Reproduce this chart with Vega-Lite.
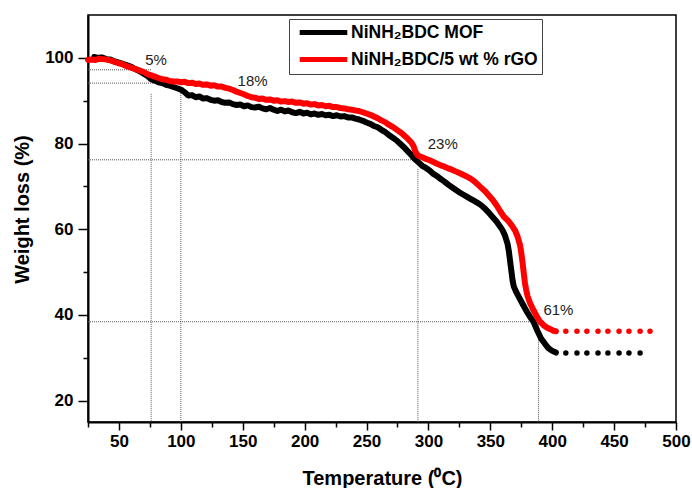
{
  "$schema": "https://vega.github.io/schema/vega-lite/v6.json",
  "width": 588,
  "height": 407,
  "autosize": {"type": "none"},
  "padding": {"left": 88, "top": 15, "right": 16, "bottom": 66},
  "background": "white",
  "config": {
    "view": {"stroke": "black", "strokeWidth": 1.5},
    "font": "Liberation Sans"
  },
  "resolve": {"axis": {"x": "independent", "y": "independent"}},
  "datasets": {
    "curves": [
      {"sample": "NiNH₂BDC MOF", "T": 30, "W": 100.2}, {"sample": "NiNH₂BDC MOF", "T": 33, "W": 100.0}, {"sample": "NiNH₂BDC MOF", "T": 36, "W": 100.1},
      {"sample": "NiNH₂BDC MOF", "T": 40, "W": 99.7}, {"sample": "NiNH₂BDC MOF", "T": 43, "W": 99.6}, {"sample": "NiNH₂BDC MOF", "T": 46, "W": 99.2},
      {"sample": "NiNH₂BDC MOF", "T": 50, "W": 98.9}, {"sample": "NiNH₂BDC MOF", "T": 53, "W": 98.6}, {"sample": "NiNH₂BDC MOF", "T": 56, "W": 98.3},
      {"sample": "NiNH₂BDC MOF", "T": 60, "W": 97.9}, {"sample": "NiNH₂BDC MOF", "T": 63, "W": 97.4}, {"sample": "NiNH₂BDC MOF", "T": 66, "W": 97.0},
      {"sample": "NiNH₂BDC MOF", "T": 70, "W": 96.3}, {"sample": "NiNH₂BDC MOF", "T": 73, "W": 95.8}, {"sample": "NiNH₂BDC MOF", "T": 76, "W": 95.0},
      {"sample": "NiNH₂BDC MOF", "T": 79, "W": 94.7}, {"sample": "NiNH₂BDC MOF", "T": 82, "W": 94.3}, {"sample": "NiNH₂BDC MOF", "T": 85, "W": 94.1},
      {"sample": "NiNH₂BDC MOF", "T": 88, "W": 93.7}, {"sample": "NiNH₂BDC MOF", "T": 91, "W": 93.5}, {"sample": "NiNH₂BDC MOF", "T": 94, "W": 93.2},
      {"sample": "NiNH₂BDC MOF", "T": 97, "W": 92.9}, {"sample": "NiNH₂BDC MOF", "T": 100, "W": 92.6}, {"sample": "NiNH₂BDC MOF", "T": 103, "W": 92.0},
      {"sample": "NiNH₂BDC MOF", "T": 106, "W": 91.2}, {"sample": "NiNH₂BDC MOF", "T": 109, "W": 91.3}, {"sample": "NiNH₂BDC MOF", "T": 112, "W": 90.8},
      {"sample": "NiNH₂BDC MOF", "T": 115, "W": 91.0}, {"sample": "NiNH₂BDC MOF", "T": 118, "W": 90.5}, {"sample": "NiNH₂BDC MOF", "T": 121, "W": 90.6},
      {"sample": "NiNH₂BDC MOF", "T": 124, "W": 90.2}, {"sample": "NiNH₂BDC MOF", "T": 127, "W": 90.0}, {"sample": "NiNH₂BDC MOF", "T": 130, "W": 90.1},
      {"sample": "NiNH₂BDC MOF", "T": 133, "W": 89.7}, {"sample": "NiNH₂BDC MOF", "T": 136, "W": 89.5}, {"sample": "NiNH₂BDC MOF", "T": 139, "W": 89.6},
      {"sample": "NiNH₂BDC MOF", "T": 142, "W": 89.2}, {"sample": "NiNH₂BDC MOF", "T": 145, "W": 89.0}, {"sample": "NiNH₂BDC MOF", "T": 148, "W": 89.1},
      {"sample": "NiNH₂BDC MOF", "T": 151, "W": 88.7}, {"sample": "NiNH₂BDC MOF", "T": 154, "W": 88.9}, {"sample": "NiNH₂BDC MOF", "T": 157, "W": 88.5},
      {"sample": "NiNH₂BDC MOF", "T": 160, "W": 88.4}, {"sample": "NiNH₂BDC MOF", "T": 163, "W": 88.6}, {"sample": "NiNH₂BDC MOF", "T": 166, "W": 88.2},
      {"sample": "NiNH₂BDC MOF", "T": 169, "W": 88.0}, {"sample": "NiNH₂BDC MOF", "T": 172, "W": 88.3}, {"sample": "NiNH₂BDC MOF", "T": 175, "W": 87.9},
      {"sample": "NiNH₂BDC MOF", "T": 178, "W": 87.6}, {"sample": "NiNH₂BDC MOF", "T": 181, "W": 87.9}, {"sample": "NiNH₂BDC MOF", "T": 184, "W": 87.5},
      {"sample": "NiNH₂BDC MOF", "T": 187, "W": 87.7}, {"sample": "NiNH₂BDC MOF", "T": 190, "W": 87.3}, {"sample": "NiNH₂BDC MOF", "T": 193, "W": 87.1},
      {"sample": "NiNH₂BDC MOF", "T": 196, "W": 87.4}, {"sample": "NiNH₂BDC MOF", "T": 199, "W": 87.0}, {"sample": "NiNH₂BDC MOF", "T": 202, "W": 87.2},
      {"sample": "NiNH₂BDC MOF", "T": 205, "W": 86.8}, {"sample": "NiNH₂BDC MOF", "T": 208, "W": 87.0}, {"sample": "NiNH₂BDC MOF", "T": 211, "W": 86.7},
      {"sample": "NiNH₂BDC MOF", "T": 214, "W": 86.9}, {"sample": "NiNH₂BDC MOF", "T": 217, "W": 86.6}, {"sample": "NiNH₂BDC MOF", "T": 220, "W": 86.7},
      {"sample": "NiNH₂BDC MOF", "T": 223, "W": 86.4}, {"sample": "NiNH₂BDC MOF", "T": 226, "W": 86.6}, {"sample": "NiNH₂BDC MOF", "T": 229, "W": 86.3},
      {"sample": "NiNH₂BDC MOF", "T": 232, "W": 86.4}, {"sample": "NiNH₂BDC MOF", "T": 235, "W": 86.1}, {"sample": "NiNH₂BDC MOF", "T": 238, "W": 86.1},
      {"sample": "NiNH₂BDC MOF", "T": 241, "W": 85.8}, {"sample": "NiNH₂BDC MOF", "T": 244, "W": 85.6}, {"sample": "NiNH₂BDC MOF", "T": 247, "W": 85.3},
      {"sample": "NiNH₂BDC MOF", "T": 250, "W": 84.9}, {"sample": "NiNH₂BDC MOF", "T": 253, "W": 84.6}, {"sample": "NiNH₂BDC MOF", "T": 256, "W": 84.1},
      {"sample": "NiNH₂BDC MOF", "T": 259, "W": 83.8}, {"sample": "NiNH₂BDC MOF", "T": 262, "W": 83.2}, {"sample": "NiNH₂BDC MOF", "T": 265, "W": 82.7},
      {"sample": "NiNH₂BDC MOF", "T": 268, "W": 82.0}, {"sample": "NiNH₂BDC MOF", "T": 271, "W": 81.4}, {"sample": "NiNH₂BDC MOF", "T": 274, "W": 80.8},
      {"sample": "NiNH₂BDC MOF", "T": 277, "W": 80.0}, {"sample": "NiNH₂BDC MOF", "T": 280, "W": 79.2}, {"sample": "NiNH₂BDC MOF", "T": 283, "W": 78.3},
      {"sample": "NiNH₂BDC MOF", "T": 286, "W": 77.4}, {"sample": "NiNH₂BDC MOF", "T": 289, "W": 76.4}, {"sample": "NiNH₂BDC MOF", "T": 292, "W": 75.6},
      {"sample": "NiNH₂BDC MOF", "T": 295, "W": 74.8}, {"sample": "NiNH₂BDC MOF", "T": 298, "W": 74.3}, {"sample": "NiNH₂BDC MOF", "T": 301, "W": 73.7},
      {"sample": "NiNH₂BDC MOF", "T": 304, "W": 72.9}, {"sample": "NiNH₂BDC MOF", "T": 307, "W": 72.4}, {"sample": "NiNH₂BDC MOF", "T": 310, "W": 71.7},
      {"sample": "NiNH₂BDC MOF", "T": 313, "W": 71.1}, {"sample": "NiNH₂BDC MOF", "T": 316, "W": 70.4}, {"sample": "NiNH₂BDC MOF", "T": 319, "W": 69.8},
      {"sample": "NiNH₂BDC MOF", "T": 322, "W": 69.2}, {"sample": "NiNH₂BDC MOF", "T": 325, "W": 68.6}, {"sample": "NiNH₂BDC MOF", "T": 328, "W": 68.1},
      {"sample": "NiNH₂BDC MOF", "T": 331, "W": 67.6}, {"sample": "NiNH₂BDC MOF", "T": 334, "W": 67.1}, {"sample": "NiNH₂BDC MOF", "T": 337, "W": 66.6},
      {"sample": "NiNH₂BDC MOF", "T": 340, "W": 66.1}, {"sample": "NiNH₂BDC MOF", "T": 343, "W": 65.5}, {"sample": "NiNH₂BDC MOF", "T": 346, "W": 64.7},
      {"sample": "NiNH₂BDC MOF", "T": 349, "W": 63.8}, {"sample": "NiNH₂BDC MOF", "T": 352, "W": 62.8}, {"sample": "NiNH₂BDC MOF", "T": 355, "W": 61.8},
      {"sample": "NiNH₂BDC MOF", "T": 358, "W": 60.6}, {"sample": "NiNH₂BDC MOF", "T": 360, "W": 59.7}, {"sample": "NiNH₂BDC MOF", "T": 362, "W": 58.4},
      {"sample": "NiNH₂BDC MOF", "T": 364, "W": 56.5}, {"sample": "NiNH₂BDC MOF", "T": 365, "W": 54.8}, {"sample": "NiNH₂BDC MOF", "T": 366, "W": 52.5},
      {"sample": "NiNH₂BDC MOF", "T": 367, "W": 50.3}, {"sample": "NiNH₂BDC MOF", "T": 368, "W": 48.0}, {"sample": "NiNH₂BDC MOF", "T": 369, "W": 46.6},
      {"sample": "NiNH₂BDC MOF", "T": 371, "W": 45.3}, {"sample": "NiNH₂BDC MOF", "T": 373, "W": 44.2}, {"sample": "NiNH₂BDC MOF", "T": 376, "W": 42.6},
      {"sample": "NiNH₂BDC MOF", "T": 379, "W": 41.0}, {"sample": "NiNH₂BDC MOF", "T": 382, "W": 39.6}, {"sample": "NiNH₂BDC MOF", "T": 385, "W": 38.3},
      {"sample": "NiNH₂BDC MOF", "T": 388, "W": 36.3}, {"sample": "NiNH₂BDC MOF", "T": 391, "W": 34.5}, {"sample": "NiNH₂BDC MOF", "T": 394, "W": 33.3},
      {"sample": "NiNH₂BDC MOF", "T": 397, "W": 32.2}, {"sample": "NiNH₂BDC MOF", "T": 400, "W": 31.6}, {"sample": "NiNH₂BDC MOF", "T": 403, "W": 31.2},

      {"sample": "NiNH₂BDC/5 wt % rGO", "T": 25, "W": 99.5}, {"sample": "NiNH₂BDC/5 wt % rGO", "T": 28, "W": 99.6}, {"sample": "NiNH₂BDC/5 wt % rGO", "T": 31, "W": 99.5},
      {"sample": "NiNH₂BDC/5 wt % rGO", "T": 34, "W": 99.8}, {"sample": "NiNH₂BDC/5 wt % rGO", "T": 37, "W": 99.7}, {"sample": "NiNH₂BDC/5 wt % rGO", "T": 40, "W": 99.6},
      {"sample": "NiNH₂BDC/5 wt % rGO", "T": 43, "W": 99.4}, {"sample": "NiNH₂BDC/5 wt % rGO", "T": 46, "W": 99.1}, {"sample": "NiNH₂BDC/5 wt % rGO", "T": 49, "W": 98.8},
      {"sample": "NiNH₂BDC/5 wt % rGO", "T": 52, "W": 98.6}, {"sample": "NiNH₂BDC/5 wt % rGO", "T": 55, "W": 98.2}, {"sample": "NiNH₂BDC/5 wt % rGO", "T": 58, "W": 97.9},
      {"sample": "NiNH₂BDC/5 wt % rGO", "T": 61, "W": 97.6}, {"sample": "NiNH₂BDC/5 wt % rGO", "T": 64, "W": 97.3}, {"sample": "NiNH₂BDC/5 wt % rGO", "T": 67, "W": 97.0},
      {"sample": "NiNH₂BDC/5 wt % rGO", "T": 70, "W": 96.7}, {"sample": "NiNH₂BDC/5 wt % rGO", "T": 73, "W": 96.2}, {"sample": "NiNH₂BDC/5 wt % rGO", "T": 76, "W": 95.9},
      {"sample": "NiNH₂BDC/5 wt % rGO", "T": 79, "W": 95.6}, {"sample": "NiNH₂BDC/5 wt % rGO", "T": 82, "W": 95.3}, {"sample": "NiNH₂BDC/5 wt % rGO", "T": 85, "W": 95.0},
      {"sample": "NiNH₂BDC/5 wt % rGO", "T": 88, "W": 94.9}, {"sample": "NiNH₂BDC/5 wt % rGO", "T": 91, "W": 94.6}, {"sample": "NiNH₂BDC/5 wt % rGO", "T": 94, "W": 94.5},
      {"sample": "NiNH₂BDC/5 wt % rGO", "T": 97, "W": 94.5}, {"sample": "NiNH₂BDC/5 wt % rGO", "T": 100, "W": 94.3}, {"sample": "NiNH₂BDC/5 wt % rGO", "T": 103, "W": 94.4},
      {"sample": "NiNH₂BDC/5 wt % rGO", "T": 106, "W": 94.1}, {"sample": "NiNH₂BDC/5 wt % rGO", "T": 109, "W": 94.2}, {"sample": "NiNH₂BDC/5 wt % rGO", "T": 112, "W": 93.9},
      {"sample": "NiNH₂BDC/5 wt % rGO", "T": 115, "W": 94.0}, {"sample": "NiNH₂BDC/5 wt % rGO", "T": 118, "W": 93.7}, {"sample": "NiNH₂BDC/5 wt % rGO", "T": 121, "W": 93.8},
      {"sample": "NiNH₂BDC/5 wt % rGO", "T": 124, "W": 93.5}, {"sample": "NiNH₂BDC/5 wt % rGO", "T": 127, "W": 93.6}, {"sample": "NiNH₂BDC/5 wt % rGO", "T": 130, "W": 93.3},
      {"sample": "NiNH₂BDC/5 wt % rGO", "T": 133, "W": 93.3}, {"sample": "NiNH₂BDC/5 wt % rGO", "T": 136, "W": 93.0}, {"sample": "NiNH₂BDC/5 wt % rGO", "T": 139, "W": 92.8},
      {"sample": "NiNH₂BDC/5 wt % rGO", "T": 142, "W": 92.5}, {"sample": "NiNH₂BDC/5 wt % rGO", "T": 145, "W": 92.1}, {"sample": "NiNH₂BDC/5 wt % rGO", "T": 148, "W": 91.8},
      {"sample": "NiNH₂BDC/5 wt % rGO", "T": 151, "W": 91.5}, {"sample": "NiNH₂BDC/5 wt % rGO", "T": 154, "W": 91.1}, {"sample": "NiNH₂BDC/5 wt % rGO", "T": 157, "W": 90.8},
      {"sample": "NiNH₂BDC/5 wt % rGO", "T": 160, "W": 90.7}, {"sample": "NiNH₂BDC/5 wt % rGO", "T": 163, "W": 90.4}, {"sample": "NiNH₂BDC/5 wt % rGO", "T": 166, "W": 90.5},
      {"sample": "NiNH₂BDC/5 wt % rGO", "T": 169, "W": 90.2}, {"sample": "NiNH₂BDC/5 wt % rGO", "T": 172, "W": 90.3}, {"sample": "NiNH₂BDC/5 wt % rGO", "T": 175, "W": 90.0},
      {"sample": "NiNH₂BDC/5 wt % rGO", "T": 178, "W": 90.1}, {"sample": "NiNH₂BDC/5 wt % rGO", "T": 181, "W": 89.8}, {"sample": "NiNH₂BDC/5 wt % rGO", "T": 184, "W": 89.9},
      {"sample": "NiNH₂BDC/5 wt % rGO", "T": 187, "W": 89.7}, {"sample": "NiNH₂BDC/5 wt % rGO", "T": 190, "W": 89.8}, {"sample": "NiNH₂BDC/5 wt % rGO", "T": 193, "W": 89.5},
      {"sample": "NiNH₂BDC/5 wt % rGO", "T": 196, "W": 89.6}, {"sample": "NiNH₂BDC/5 wt % rGO", "T": 199, "W": 89.3}, {"sample": "NiNH₂BDC/5 wt % rGO", "T": 202, "W": 89.4},
      {"sample": "NiNH₂BDC/5 wt % rGO", "T": 205, "W": 89.1}, {"sample": "NiNH₂BDC/5 wt % rGO", "T": 208, "W": 89.2}, {"sample": "NiNH₂BDC/5 wt % rGO", "T": 211, "W": 88.9},
      {"sample": "NiNH₂BDC/5 wt % rGO", "T": 214, "W": 89.0}, {"sample": "NiNH₂BDC/5 wt % rGO", "T": 217, "W": 88.7}, {"sample": "NiNH₂BDC/5 wt % rGO", "T": 220, "W": 88.8},
      {"sample": "NiNH₂BDC/5 wt % rGO", "T": 223, "W": 88.5}, {"sample": "NiNH₂BDC/5 wt % rGO", "T": 226, "W": 88.5}, {"sample": "NiNH₂BDC/5 wt % rGO", "T": 229, "W": 88.3},
      {"sample": "NiNH₂BDC/5 wt % rGO", "T": 232, "W": 88.2}, {"sample": "NiNH₂BDC/5 wt % rGO", "T": 235, "W": 88.0}, {"sample": "NiNH₂BDC/5 wt % rGO", "T": 238, "W": 87.9},
      {"sample": "NiNH₂BDC/5 wt % rGO", "T": 241, "W": 87.7}, {"sample": "NiNH₂BDC/5 wt % rGO", "T": 244, "W": 87.6}, {"sample": "NiNH₂BDC/5 wt % rGO", "T": 247, "W": 87.3},
      {"sample": "NiNH₂BDC/5 wt % rGO", "T": 250, "W": 87.0}, {"sample": "NiNH₂BDC/5 wt % rGO", "T": 253, "W": 86.7}, {"sample": "NiNH₂BDC/5 wt % rGO", "T": 256, "W": 86.3},
      {"sample": "NiNH₂BDC/5 wt % rGO", "T": 259, "W": 85.9}, {"sample": "NiNH₂BDC/5 wt % rGO", "T": 262, "W": 85.4}, {"sample": "NiNH₂BDC/5 wt % rGO", "T": 265, "W": 85.0},
      {"sample": "NiNH₂BDC/5 wt % rGO", "T": 268, "W": 84.4}, {"sample": "NiNH₂BDC/5 wt % rGO", "T": 271, "W": 83.9}, {"sample": "NiNH₂BDC/5 wt % rGO", "T": 274, "W": 83.3},
      {"sample": "NiNH₂BDC/5 wt % rGO", "T": 277, "W": 82.7}, {"sample": "NiNH₂BDC/5 wt % rGO", "T": 280, "W": 82.0}, {"sample": "NiNH₂BDC/5 wt % rGO", "T": 283, "W": 81.2},
      {"sample": "NiNH₂BDC/5 wt % rGO", "T": 286, "W": 80.3}, {"sample": "NiNH₂BDC/5 wt % rGO", "T": 288, "W": 79.4}, {"sample": "NiNH₂BDC/5 wt % rGO", "T": 289, "W": 78.5},
      {"sample": "NiNH₂BDC/5 wt % rGO", "T": 290, "W": 77.8}, {"sample": "NiNH₂BDC/5 wt % rGO", "T": 292, "W": 77.1}, {"sample": "NiNH₂BDC/5 wt % rGO", "T": 295, "W": 76.8},
      {"sample": "NiNH₂BDC/5 wt % rGO", "T": 298, "W": 76.4}, {"sample": "NiNH₂BDC/5 wt % rGO", "T": 301, "W": 76.1}, {"sample": "NiNH₂BDC/5 wt % rGO", "T": 304, "W": 75.7},
      {"sample": "NiNH₂BDC/5 wt % rGO", "T": 307, "W": 75.3}, {"sample": "NiNH₂BDC/5 wt % rGO", "T": 310, "W": 74.9}, {"sample": "NiNH₂BDC/5 wt % rGO", "T": 313, "W": 74.6},
      {"sample": "NiNH₂BDC/5 wt % rGO", "T": 316, "W": 74.2}, {"sample": "NiNH₂BDC/5 wt % rGO", "T": 319, "W": 73.9}, {"sample": "NiNH₂BDC/5 wt % rGO", "T": 322, "W": 73.5},
      {"sample": "NiNH₂BDC/5 wt % rGO", "T": 325, "W": 73.1}, {"sample": "NiNH₂BDC/5 wt % rGO", "T": 328, "W": 72.7}, {"sample": "NiNH₂BDC/5 wt % rGO", "T": 331, "W": 72.3},
      {"sample": "NiNH₂BDC/5 wt % rGO", "T": 334, "W": 71.8}, {"sample": "NiNH₂BDC/5 wt % rGO", "T": 337, "W": 71.2}, {"sample": "NiNH₂BDC/5 wt % rGO", "T": 340, "W": 70.4},
      {"sample": "NiNH₂BDC/5 wt % rGO", "T": 343, "W": 69.6}, {"sample": "NiNH₂BDC/5 wt % rGO", "T": 346, "W": 68.8}, {"sample": "NiNH₂BDC/5 wt % rGO", "T": 349, "W": 67.8},
      {"sample": "NiNH₂BDC/5 wt % rGO", "T": 352, "W": 66.8}, {"sample": "NiNH₂BDC/5 wt % rGO", "T": 355, "W": 65.6}, {"sample": "NiNH₂BDC/5 wt % rGO", "T": 358, "W": 64.2},
      {"sample": "NiNH₂BDC/5 wt % rGO", "T": 361, "W": 62.9}, {"sample": "NiNH₂BDC/5 wt % rGO", "T": 364, "W": 62.1}, {"sample": "NiNH₂BDC/5 wt % rGO", "T": 367, "W": 61.0},
      {"sample": "NiNH₂BDC/5 wt % rGO", "T": 370, "W": 59.7}, {"sample": "NiNH₂BDC/5 wt % rGO", "T": 372, "W": 58.3}, {"sample": "NiNH₂BDC/5 wt % rGO", "T": 374, "W": 56.3},
      {"sample": "NiNH₂BDC/5 wt % rGO", "T": 375, "W": 54.5}, {"sample": "NiNH₂BDC/5 wt % rGO", "T": 376, "W": 52.3}, {"sample": "NiNH₂BDC/5 wt % rGO", "T": 377, "W": 49.8},
      {"sample": "NiNH₂BDC/5 wt % rGO", "T": 378, "W": 47.4}, {"sample": "NiNH₂BDC/5 wt % rGO", "T": 379, "W": 45.8}, {"sample": "NiNH₂BDC/5 wt % rGO", "T": 380, "W": 44.5},
      {"sample": "NiNH₂BDC/5 wt % rGO", "T": 382, "W": 42.8}, {"sample": "NiNH₂BDC/5 wt % rGO", "T": 384, "W": 41.6}, {"sample": "NiNH₂BDC/5 wt % rGO", "T": 386, "W": 40.5},
      {"sample": "NiNH₂BDC/5 wt % rGO", "T": 388, "W": 39.4}, {"sample": "NiNH₂BDC/5 wt % rGO", "T": 390, "W": 38.5}, {"sample": "NiNH₂BDC/5 wt % rGO", "T": 393, "W": 37.6},
      {"sample": "NiNH₂BDC/5 wt % rGO", "T": 396, "W": 37.0}, {"sample": "NiNH₂BDC/5 wt % rGO", "T": 399, "W": 36.6}, {"sample": "NiNH₂BDC/5 wt % rGO", "T": 401, "W": 36.3},
      {"sample": "NiNH₂BDC/5 wt % rGO", "T": 403, "W": 36.2}
    ],
    "tails": [
      {"sample": "NiNH₂BDC MOF", "T": 411, "W": 31.1}, {"sample": "NiNH₂BDC MOF", "T": 420, "W": 31.1},
      {"sample": "NiNH₂BDC MOF", "T": 428, "W": 31.1}, {"sample": "NiNH₂BDC MOF", "T": 437, "W": 31.1},
      {"sample": "NiNH₂BDC MOF", "T": 445, "W": 31.1}, {"sample": "NiNH₂BDC MOF", "T": 454, "W": 31.1},
      {"sample": "NiNH₂BDC MOF", "T": 462, "W": 31.1}, {"sample": "NiNH₂BDC MOF", "T": 471, "W": 31.1},
      {"sample": "NiNH₂BDC/5 wt % rGO", "T": 411, "W": 36.2}, {"sample": "NiNH₂BDC/5 wt % rGO", "T": 420, "W": 36.2},
      {"sample": "NiNH₂BDC/5 wt % rGO", "T": 428, "W": 36.2}, {"sample": "NiNH₂BDC/5 wt % rGO", "T": 437, "W": 36.2},
      {"sample": "NiNH₂BDC/5 wt % rGO", "T": 445, "W": 36.2}, {"sample": "NiNH₂BDC/5 wt % rGO", "T": 454, "W": 36.2},
      {"sample": "NiNH₂BDC/5 wt % rGO", "T": 462, "W": 36.2}, {"sample": "NiNH₂BDC/5 wt % rGO", "T": 471, "W": 36.2},
      {"sample": "NiNH₂BDC/5 wt % rGO", "T": 479, "W": 36.2}
    ],
    "guides": [
      {"T": 25, "T2": 76, "W": 97.2, "W2": 97.2},
      {"T": 25, "T2": 100, "W": 94.1, "W2": 94.1},
      {"T": 76, "T2": 76, "W": 91.6, "W2": 15},
      {"T": 100, "T2": 100, "W": 91.8, "W2": 15},
      {"T": 25, "T2": 289, "W": 76.2, "W2": 76.2},
      {"T": 291.5, "T2": 291.5, "W": 74, "W2": 15},
      {"T": 25, "T2": 387, "W": 38.4, "W2": 38.4},
      {"T": 389, "T2": 389, "W": 38.4, "W2": 15}
    ],
    "notes": [
      {"T": 80, "W": 99.5, "label": "5%"},
      {"T": 158, "W": 94.6, "label": "18%"},
      {"T": 311.6, "W": 79.9, "label": "23%"},
      {"T": 405, "W": 41.1, "label": "61%"}
    ]
  },
  "layer": [
    {
      "data": {"name": "guides"},
      "mark": {"type": "rule", "stroke": "#555555", "strokeWidth": 1, "strokeDash": [1, 1]},
      "encoding": {
        "x": {
          "field": "T", "type": "quantitative",
          "scale": {"domain": [25, 500], "nice": false, "zero": false},
          "axis": {
            "orient": "bottom", "title": null, "labels": false, "domain": false, "grid": false,
            "values": [25, 75, 125, 175, 225, 275, 325, 375, 425, 475],
            "tickSize": 5, "tickColor": "black", "tickWidth": 1.5
          }
        },
        "x2": {"field": "T2"},
        "y": {
          "field": "W", "type": "quantitative",
          "scale": {"domain": [15, 110], "nice": false, "zero": false},
          "axis": {
            "orient": "left", "title": null, "labels": false, "domain": false, "grid": false,
            "values": [30, 50, 70, 90],
            "tickSize": 5, "tickColor": "black", "tickWidth": 1.5
          }
        },
        "y2": {"field": "W2"}
      }
    },
    {
      "data": {"name": "curves"},
      "transform": [{"filter": "datum.sample === 'NiNH₂BDC MOF'"}],
      "mark": {"type": "line", "strokeWidth": 6, "strokeCap": "round", "strokeJoin": "round"},
      "encoding": {
        "x": {
          "field": "T", "type": "quantitative",
          "axis": {
            "orient": "bottom",
            "title": "Temperature (⁰C)",
            "values": [50, 100, 150, 200, 250, 300, 350, 400, 450, 500],
            "format": "d",
            "grid": false,
            "labelOverlap": false,
            "labelFlush": false,
            "tickSize": 8, "tickColor": "black", "tickWidth": 1.5,
            "domainColor": "black", "domainWidth": 2,
            "labelFont": "Liberation Sans", "labelFontWeight": "bold", "labelFontSize": 17, "labelColor": "black",
            "labelPadding": 3,
            "titleFont": "Liberation Sans", "titleFontWeight": "bold", "titleFontSize": 20, "titleColor": "black",
            "titlePadding": 19
          }
        },
        "y": {
          "field": "W", "type": "quantitative",
          "axis": {
            "orient": "left",
            "title": "Weight loss (%)",
            "values": [20, 40, 60, 80, 100],
            "grid": false,
            "labelOverlap": false,
            "tickSize": 10, "tickColor": "black", "tickWidth": 1.5,
            "domainColor": "black", "domainWidth": 2,
            "labelFont": "Liberation Sans", "labelFontWeight": "bold", "labelFontSize": 17, "labelColor": "black",
            "labelPadding": 5,
            "titleFont": "Liberation Sans", "titleFontWeight": "bold", "titleFontSize": 20, "titleColor": "black",
            "titlePadding": 12,
            "titleY": 194
          }
        },
        "color": {
          "field": "sample", "type": "nominal",
          "scale": {"domain": ["NiNH₂BDC MOF", "NiNH₂BDC/5 wt % rGO"], "range": ["#000000", "#ff0000"]},
          "legend": {
            "orient": "none", "legendX": 201, "legendY": 4,
            "title": null,
            "symbolType": "M-3.4,0H3.4", "symbolStrokeWidth": 5, "symbolSize": 196,
            "symbolOffset": 21,
            "labelFont": "Liberation Sans", "labelFontWeight": "bold", "labelFontSize": 17.5, "labelColor": "black",
            "labelLimit": 400,
            "labelOffset": 18,
            "rowPadding": 6,
            "padding": 4,
            "strokeColor": "#444444",
            "fillColor": "white"
          }
        }
      }
    },
    {
      "data": {"name": "curves"},
      "transform": [{"filter": "datum.sample !== 'NiNH₂BDC MOF'"}],
      "mark": {"type": "line", "strokeWidth": 6, "strokeCap": "round", "strokeJoin": "round"},
      "encoding": {
        "x": {"field": "T", "type": "quantitative", "axis": null},
        "y": {"field": "W", "type": "quantitative", "axis": null},
        "color": {"field": "sample", "type": "nominal"}
      }
    },
    {
      "data": {"name": "tails"},
      "mark": {"type": "point", "filled": true, "shape": "circle", "size": 30, "opacity": 1},
      "encoding": {
        "x": {"field": "T", "type": "quantitative", "axis": null},
        "y": {"field": "W", "type": "quantitative", "axis": null},
        "color": {"field": "sample", "type": "nominal", "legend": null}
      }
    },
    {
      "data": {"name": "notes"},
      "mark": {"type": "text", "font": "Liberation Sans", "fontSize": 15, "color": "#222222", "align": "center", "baseline": "middle"},
      "encoding": {
        "x": {"field": "T", "type": "quantitative", "axis": null},
        "y": {"field": "W", "type": "quantitative", "axis": null},
        "text": {"field": "label"}
      }
    }
  ]
}
